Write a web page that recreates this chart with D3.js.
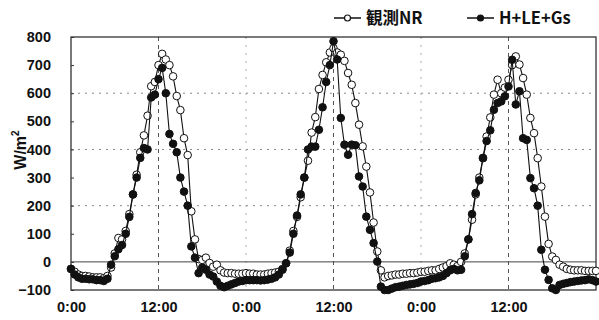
<!DOCTYPE html>
<html><head><meta charset="utf-8">
<script src="https://cdn.jsdelivr.net/npm/d3@7"></script>
<style>body{margin:0;background:#fff}svg{display:block}</style>
</head><body>
<svg id="c" width="599" height="320"></svg>
<script>
// hours since start, 30-minute steps
const hours = d3.range(0, 72.01, 0.5);
const seriesNames = ["観測NR", "H+LE+Gs"];
const nrValues = [
 -25,-35,-45,-50,-50,-52,-55,-55,-55,-58,-50,-20,30,85,80,110,170,240,310,390,450,520,625,640,700,740,720,700,660,590,540,440,380,180,80,10,7,15,-4,-17,-10,-30,-38,-40,-40,-42,-42,-42,
 -40,-42,-42,-45,-45,-45,-42,-40,-38,-35,-25,-5,40,110,160,230,300,360,460,515,615,665,710,745,760,745,737,715,672,630,565,488,411,339,247,140,37,-30,-55,-50,-48,-45,-45,-42,-42,-40,-40,-38,
 -35,-35,-32,-30,-30,-25,-20,-15,-5,-10,-15,0,30,80,150,240,300,370,446,514,595,648,600,620,648,700,731,702,654,595,512,458,369,268,161,64,19,7,-10,-17,-25,-28,-30,-30,-30,-32,-32,-32,-32
];
const hleValues = [
 -25,-45,-55,-60,-60,-62,-62,-65,-65,-68,-60,-10,20,45,60,100,160,240,300,370,405,400,585,595,650,690,600,455,420,390,300,250,200,55,15,-40,-20,-28,-45,-52,-70,-85,-90,-85,-80,-75,-70,-68,
 -65,-65,-65,-65,-66,-65,-63,-60,-55,-45,-28,-5,33,100,165,240,300,400,410,410,470,550,640,700,785,720,512,417,381,417,415,304,268,161,114,67,1,-88,-100,-100,-95,-90,-88,-85,-82,-80,-78,-75,
 -70,-68,-65,-60,-58,-55,-50,-40,-30,-25,-30,-28,20,80,170,245,290,369,430,468,541,565,571,589,624,719,560,607,440,434,298,262,200,43,-28,-64,-94,-100,-82,-78,-75,-72,-70,-68,-66,-65,-62,-65,-70
];
const yTicks = [-100,0,100,200,300,400,500,600,700,800];
const xTicks = [0,12,24,36,48,60];
const xTickLabels = ["0:00","12:00","0:00","12:00","0:00","12:00"];
const yGrid = [200,400,600];
const yTitle = "W/m";

const svg = d3.select("#c");
const L=71, R=596, T=37, B=290;
const x = d3.scaleLinear().domain([0,72]).range([L,R]);
const y = d3.scaleLinear().domain([-100,800]).range([B,T]);
const font = "'Liberation Sans', Arial, sans-serif";

// grid
svg.append("g").selectAll("line").data(yGrid).join("line")
 .attr("x1",L).attr("x2",R).attr("y1",d=>y(d)).attr("y2",d=>y(d))
 .attr("stroke","#888").attr("stroke-width",1).attr("stroke-dasharray","2,5");
svg.append("g").selectAll("line").data(xTicks.filter(d=>d>0)).join("line")
 .attr("x1",d=>x(d)).attr("x2",d=>x(d)).attr("y1",T).attr("y2",B)
 .attr("stroke",d=>d%24===12?"#555":"#aaa").attr("stroke-width",1)
 .attr("stroke-dasharray",d=>d%24===12?"4,4":"2,6");
svg.append("line").attr("x1",L).attr("x2",R).attr("y1",y(0)).attr("y2",y(0))
 .attr("stroke","#444").attr("stroke-width",1);

// frame
svg.append("rect").attr("x",L).attr("y",T).attr("width",R-L).attr("height",B-T)
 .attr("fill","none").attr("stroke","#333").attr("stroke-width",1.3);

// axes
const yAxis = d3.axisLeft(y).tickValues(yTicks).tickSize(3).tickPadding(17).tickFormat(d3.format("d"));
const gy = svg.append("g").attr("transform",`translate(${L},0)`).call(yAxis);
gy.select(".domain").remove();
gy.selectAll(".tick line").attr("x2",3).attr("x1",0).attr("stroke","#333");
gy.selectAll("text").attr("font-family",font).attr("font-weight","bold").attr("font-size",14.5).attr("fill","#111")
 .text(d=>d<0?"−"+Math.abs(d):d);

const xAxis = d3.axisBottom(x).tickValues(xTicks).tickSize(0).tickPadding(12).tickFormat((d,i)=>xTickLabels[i]);
const gx = svg.append("g").attr("transform",`translate(0,${B})`).call(xAxis);
gx.select(".domain").remove();
gx.selectAll("text").attr("font-family",font).attr("font-weight","bold").attr("font-size",14.5).attr("fill","#111");

// y title
const yt = svg.append("text").attr("transform","translate(26,150) rotate(-90)")
 .attr("text-anchor","middle").attr("font-family",font).attr("font-weight","bold").attr("font-size",16).attr("fill","#111");
yt.append("tspan").text(yTitle);
yt.append("tspan").attr("dy",-7).attr("font-size",10).text("2");

// series
const line = d3.line().x((d,i)=>x(hours[i])).y(d=>y(d));
function drawSeries(vals, fill){
  svg.append("path").datum(vals).attr("d",line).attr("fill","none").attr("stroke","#111").attr("stroke-width",1.1);
  svg.append("g").selectAll("circle").data(vals).join("circle")
   .attr("cx",(d,i)=>x(hours[i])).attr("cy",d=>y(d)).attr("r",3.8)
   .attr("fill",fill).attr("stroke","#111").attr("stroke-width",1);
}
drawSeries(nrValues, "#fff");
drawSeries(hleValues, "#111");

// legend
const lg = svg.append("g");
const items = [{name:seriesNames[0],fill:"#fff",x0:334},{name:seriesNames[1],fill:"#111",x0:467}];
items.forEach(it=>{
  lg.append("line").attr("x1",it.x0).attr("x2",it.x0+27).attr("y1",18).attr("y2",18).attr("stroke","#111").attr("stroke-width",1.5);
  lg.append("circle").attr("cx",it.x0+13.5).attr("cy",18).attr("r",3).attr("fill",it.fill).attr("stroke","#111").attr("stroke-width",1.2);
  lg.append("text").attr("x",it.x0+32).attr("y",24).attr("font-family","'Noto Sans CJK JP', 'Liberation Sans', sans-serif")
   .attr("font-weight","bold").attr("font-size",16.5).attr("fill","#111").text(it.name);
});
</script>
</body></html>
